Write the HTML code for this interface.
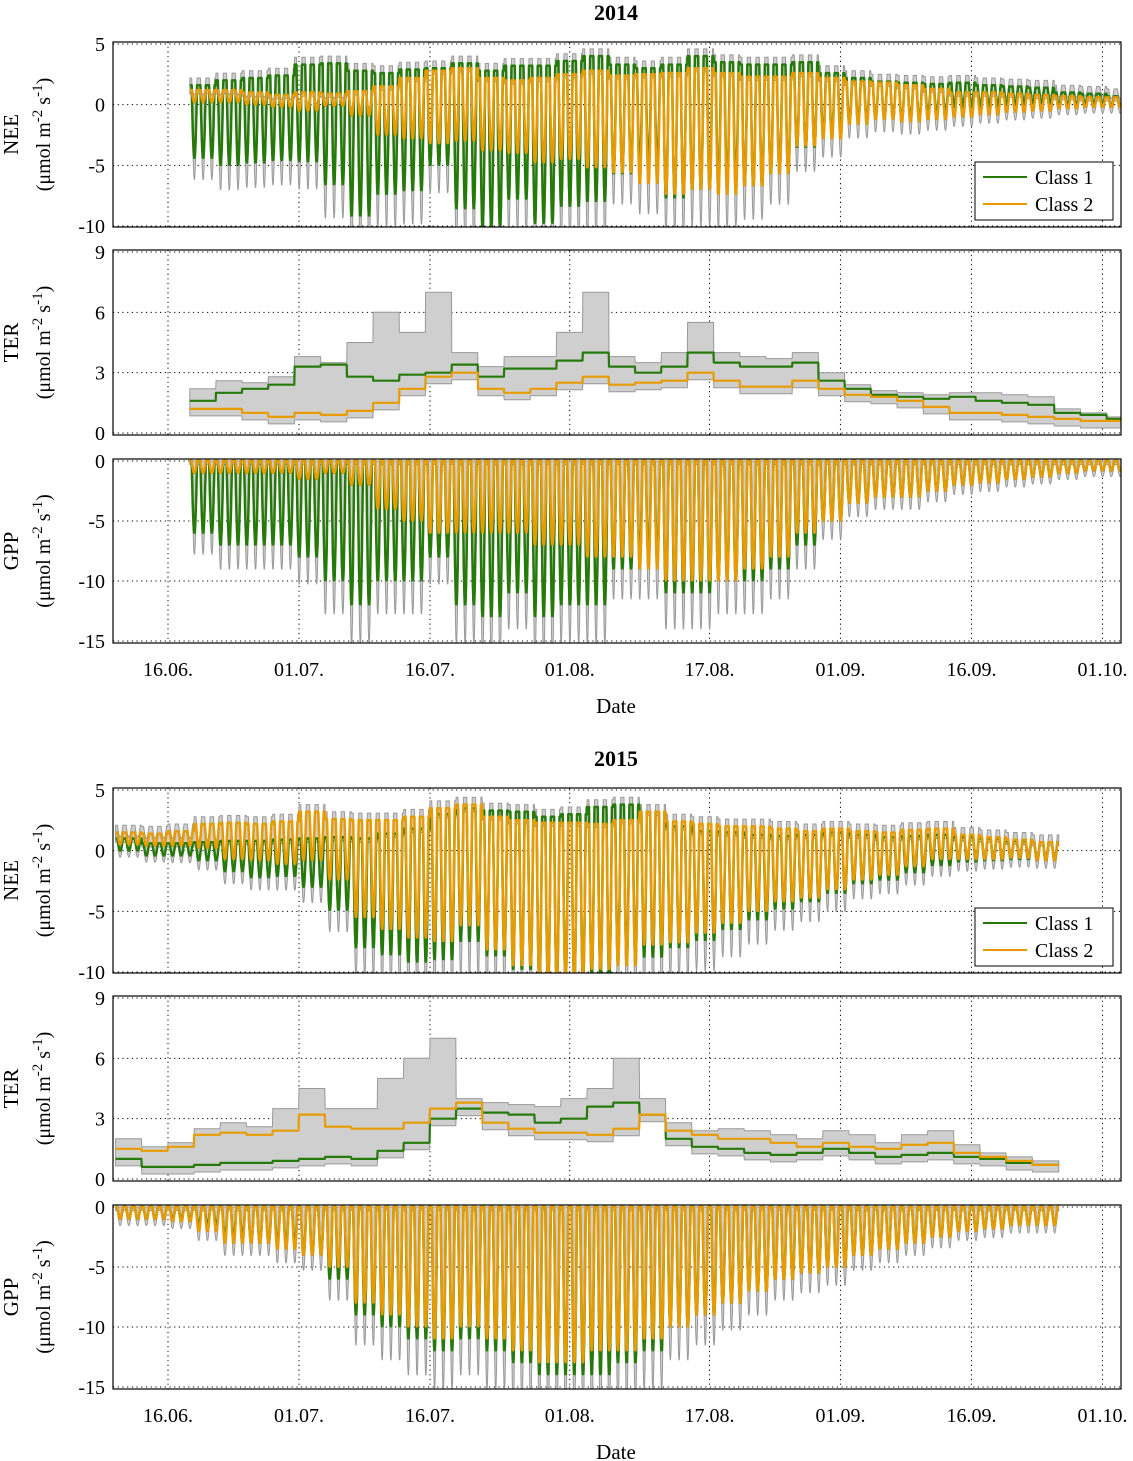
<!DOCTYPE html>
<html><head><meta charset="utf-8">
<style>
body{margin:0;background:#fff;}
svg{display:block;font-family:"Liberation Serif",serif;}
</style></head>
<body>
<svg id="chart" width="1133" height="1461" viewBox="0 0 1133 1461" xmlns="http://www.w3.org/2000/svg"></svg>
<script>
// ---- data (3-day resolution) ----
const dateLabels = ["16.06.","01.07.","16.07.","01.08.","17.08.","01.09.","16.09.","01.10."];
const dateDays = [0,15,30,46,62,77,92,107]; // days since 16 June
const ter1_2014 = [1.6,2.0,2.2,2.4,3.3,3.4,2.8,2.6,2.9,3.0,3.4,2.8,3.2,3.2,3.6,4.0,3.3,3.0,3.3,4.0,3.5,3.3,3.3,3.5,2.6,2.2,1.9,1.8,1.7,1.8,1.6,1.5,1.4,1.0,0.9,0.7];
const ter2_2014 = [1.2,1.2,1.0,0.8,1.0,0.9,1.1,1.5,2.2,2.8,3.0,2.2,2.0,2.2,2.5,2.8,2.4,2.5,2.6,3.0,2.6,2.3,2.3,2.6,2.2,1.9,1.8,1.6,1.3,1.0,1.0,0.9,0.8,0.7,0.6,0.6];
const terHi_2014 = [2.2,2.6,2.5,2.8,3.8,3.5,4.5,6.0,5.0,7.0,4.0,3.3,3.8,3.8,5.0,7.0,3.8,3.5,4.0,5.5,4.0,3.8,3.7,4.0,3.0,2.4,2.1,2.0,1.9,2.0,2.0,1.9,1.8,1.2,1.0,0.8];
const gpp1_2014 = [6,7,7,7,8,10,12,10,10,8,12,13,11,13,12,12,9,8,11,11,10,10,9,7,5,3.5,3,3,2.5,2,1.8,1.5,1.3,1,0.8,0.8];
const gpp2_2014 = [1,1,1,1,1.5,1,2,4,5,6,6,6,6,7,7,8,8,9,10,10,10,9,8,6,5,3.5,3,3,2.5,2,1.8,1.5,1.3,1,0.8,0.8];
const ter1_2015 = [1.0,0.6,0.6,0.7,0.8,0.8,0.9,1.0,1.1,1.0,1.4,1.8,3.0,3.5,3.3,3.2,2.8,3.0,3.6,3.8,3.2,2.0,1.6,1.5,1.3,1.2,1.3,1.5,1.3,1.1,1.2,1.3,1.1,1.0,0.8,0.7];
const ter2_2015 = [1.5,1.4,1.6,2.2,2.3,2.2,2.4,3.2,2.6,2.5,2.5,2.8,3.5,3.8,2.8,2.5,2.3,2.3,2.2,2.5,3.2,2.4,2.2,2.0,2.0,1.8,1.6,1.8,1.6,1.5,1.7,1.8,1.3,1.1,0.9,0.7];
const terHi_2015 = [2.0,1.6,1.8,2.5,2.8,2.6,3.5,4.5,3.5,3.5,5.0,6.0,7.0,4.0,3.8,3.7,3.6,4.0,4.5,6.0,4.0,2.8,2.4,2.5,2.4,2.2,2.0,2.4,2.2,1.8,2.2,2.4,1.7,1.3,1.1,0.9];
const gpp1_2015 = [1,1,1,1.5,2.5,3,3,4,6,9,10,11,12,11,12,13,14,14,14,13,12,10,9,8,7,6,5.5,5,4,3.5,3,2.5,2,1.8,1.5,1.5];
const gpp2_2015 = [1,1,1.2,2,3,3,3.5,4,5,8,9,10,11,10,11,12,13,13,12,12,11,10,9,8,7,6,5.5,5,4,3.5,3,2.5,2,1.8,1.5,1.5];
const startDay2014 = 2.5, startDay2015 = -6;

const NS="http://www.w3.org/2000/svg";
const svg=document.getElementById('chart');
const GREEN="#267a0a", ORANGE="#e89b00";
function mk(tag,attrs,parent){const e=document.createElementNS(NS,tag);for(const k in attrs)e.setAttribute(k,attrs[k]);(parent||svg).appendChild(e);return e;}
const X0=113,X1=1121;
function xDay(d){return 168+d*131/15;}
let clipId=0;

function panel(top,bottom,yv,ticks,name,nameKey){
  const g=mk('g',{});
  
  
  dateDays.forEach(d=>{const l=mk('line',{x1:xDay(d),x2:xDay(d),y1:top,y2:bottom,stroke:'#000','stroke-width':1,'stroke-dasharray':'1.2,3.5'},g);
    });
  ticks.forEach(t=>{const l=mk('line',{x1:X0,x2:X1,y1:yv(t),y2:yv(t),stroke:'#000','stroke-width':1,'stroke-dasharray':'1.2,3.5'},g);
    
    const tx=mk('text',{x:X0-8,y:yv(t)+7,'text-anchor':'end','font-size':20},g);tx.textContent=t;
    });
  const id='c'+(clipId++);
  const cp=mk('clipPath',{id:id},g);mk('rect',{x:X0,y:top,width:X1-X0,height:bottom-top},cp);
  const data=mk('g',{'clip-path':'url(#'+id+')'},g);
  const fr=mk('rect',{x:X0,y:top,width:X1-X0,height:bottom-top,fill:'none',stroke:'#000','stroke-width':1.2},g);
  
  const cy=(top+bottom)/2;
  const yl=mk('text',{transform:`translate(18,${cy}) rotate(-90)`,'text-anchor':'middle','font-size':21},g);yl.textContent=name;
  
  const yu=mk('text',{transform:`translate(50,${cy}) rotate(-90)`,'text-anchor':'middle','font-size':20},g);
  yu.innerHTML='(μmol m<tspan dy="-8" font-size="15">-2</tspan><tspan dy="8"> s</tspan><tspan dy="-8" font-size="15">-1</tspan><tspan dy="8">)</tspan>';
  
  return data;
}
function shape(h){const s=Math.sin(Math.PI*(h-5)/15);return s>0?s:0;}
function series(start,ter,gpp,kind){
  const pts=[];const n=ter.length*3*24;
  for(let i=0;i<=n;i++){const d=i/24;const k=Math.min(ter.length-1,Math.floor(d/3));const h=i%24;
    const g=-gpp[k]*shape(h);let v=kind==='ter'?ter[k]:kind==='gpp'?g:ter[k]+g;
    pts.push([start+d,v,g,ter[k],k,h]);}
  return pts;
}
function poly(parent,pts,yv,color,w,name){
  const p=mk('polyline',{points:pts.map(p=>xDay(p[0]).toFixed(1)+','+yv(p[1]).toFixed(1)).join(' '),fill:'none',stroke:color,'stroke-width':w,'stroke-linejoin':'round'},parent);
  return p;
}
function band(parent,up,lo,yv,name){
  const d=up.map(p=>xDay(p[0]).toFixed(1)+','+yv(p[1]).toFixed(1)).concat(lo.slice().reverse().map(p=>xDay(p[0]).toFixed(1)+','+yv(p[1]).toFixed(1))).join(' ');
  const p=mk('polygon',{points:d,fill:'#cfcfcf',stroke:'#999','stroke-width':1},parent);
  
}
function legend(x,y){
  const g=mk('g',{});
  mk('rect',{x:x,y:y,width:138,height:58,fill:'#fff',stroke:'#000','stroke-width':1},g);
  [[GREEN,'Class 1'],[ORANGE,'Class 2']].forEach((e,i)=>{
    const eg=mk('g',{},g);
    mk('line',{x1:x+8,x2:x+52,y1:y+15+i*27,y2:y+15+i*27,stroke:e[0],'stroke-width':2},eg);
    const t=mk('text',{x:x+60,y:y+22+i*27,'font-size':20},eg);t.textContent=e[1];});
}
function year(yr,offs,start,ter1,ter2,terHi,gpp1,gpp2){
  const t=mk('text',{x:616,y:offs+20,'text-anchor':'middle','font-size':22,'font-weight':'bold'});t.textContent=yr;
  
  // NEE
  const neeY=v=>offs+226-(v+10)/15*182;
  let G=panel(offs+42,offs+227,neeY,[5,0,-5,-10],'NEE','nee-'+yr);
  const n1=series(start,ter1,gpp1,'nee'),n2=series(start,ter2,gpp2,'nee');
  const hi=n1.map((p,i)=>[p[0],Math.max(p[1],n2[i][1])+0.6]);
  const lo=n1.map((p,i)=>[p[0],Math.min(p[1],n2[i][1])-0.3-0.25*Math.max(gpp1[p[4]],gpp2[p[4]])*shape(p[5])]);
  band(G,hi,lo,neeY,'nee-uncertainty-band');
  poly(G,n1,neeY,GREEN,2.5,'nee-class-1-line');poly(G,n2,neeY,ORANGE,2.5,'nee-class-2-line');
  legend(975,offs+162);
  // TER
  const terY=v=>offs+433-v/9*181;
  G=panel(offs+250,offs+435,terY,[9,6,3,0],'TER','ter-'+yr);
  const t1=series(start,ter1,gpp1,'ter'),t2=series(start,ter2,gpp2,'ter');
  const th=t1.map(p=>[p[0],terHi[p[4]]]);const tl=t1.map((p,i)=>[p[0],Math.min(p[1],t2[i][1])-0.35]);
  band(G,th,tl,terY,'ter-uncertainty-band');
  poly(G,t1,terY,GREEN,2.2,'ter-class-1-line');poly(G,t2,terY,ORANGE,2.2,'ter-class-2-line');
  // GPP
  const gY=v=>offs+461-v*12;
  G=panel(offs+459,offs+643,gY,[0,-5,-10,-15],'GPP','gpp-'+yr);
  const g1=series(start,ter1,gpp1,'gpp'),g2=series(start,ter2,gpp2,'gpp');
  band(G,g1.map(p=>[p[0],0]),g1.map((p,i)=>[p[0],-1.25*Math.max(gpp1[p[4]],gpp2[p[4]])*shape(p[5])-0.3]),gY,'gpp-uncertainty-band');
  poly(G,g1,gY,GREEN,2.5,'gpp-class-1-line');poly(G,g2,gY,ORANGE,2.5,'gpp-class-2-line');
  dateLabels.forEach((l,i)=>{const tx=mk('text',{x:xDay(dateDays[i]),y:offs+676,'text-anchor':'middle','font-size':20});tx.textContent=l;
    });
  const xl=mk('text',{x:616,y:offs+713,'text-anchor':'middle','font-size':21});xl.textContent='Date';
  
}
year('2014',0,startDay2014,ter1_2014,ter2_2014,terHi_2014,gpp1_2014,gpp2_2014);
year('2015',746,startDay2015,ter1_2015,ter2_2015,terHi_2015,gpp1_2015,gpp2_2015);
</script>
</body></html>
